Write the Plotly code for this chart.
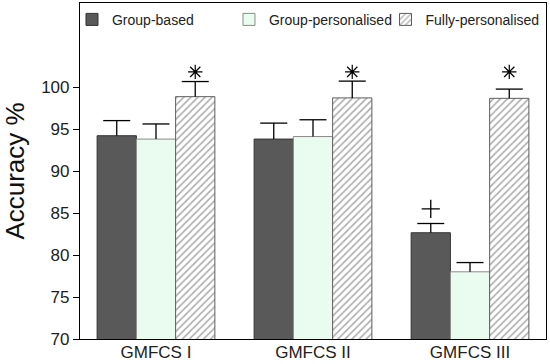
import plotly.graph_objects as go

categories = ["GMFCS I", "GMFCS II", "GMFCS III"]
series_names = ["Group-based", "Group-personalised", "Fully-personalised"]
group_based = [94.2, 93.8, 82.65]
group_based_err = [1.8, 1.9, 1.1]
group_pers = [93.8, 94.1, 78.0]
group_pers_err = [1.8, 2.0, 1.1]
fully_pers = [98.85, 98.7, 98.65]
fully_pers_err = [1.8, 2.0, 1.1]
y_ticks = [70, 75, 80, 85, 90, 95, 100]
star_y = [101.8, 101.8, 101.8]   # '*' significance marks over Fully-personalised
plus_y = [None, None, 85.5]      # '+' marks over Group-based

FONT = "Liberation Sans, Arial, sans-serif"
bargap = 0.25
bar_w = (1 - bargap) / 3
xs = list(range(len(categories)))

fig = go.Figure()
styles = [
    dict(color="#595959", line=dict(color="#333333", width=1)),
    dict(color="#EAFCF0", line=dict(color="#8a8a8a", width=1)),
    dict(color="white", line=dict(color="#5e5e5e", width=1),
         pattern=dict(shape="/", fgcolor="#5a5a5a", bgcolor="white", size=5, solidity=0.32)),
]
legend_ids = ["legend", "legend2", "legend3"]
legend_x = [-0.0172, 0.3197, 0.6556]
all_vals = [group_based, group_pers, fully_pers]
all_errs = [group_based_err, group_pers_err, fully_pers_err]
for name, vals, errs, st, lg in zip(series_names, all_vals, all_errs, styles, legend_ids):
    fig.add_trace(go.Bar(
        x=xs, y=vals, name=name, marker=st, legend=lg,
        error_y=dict(type="data", symmetric=False, array=errs,
                     arrayminus=[0] * len(errs), color="black",
                     thickness=1.3, width=0),
    ))

# error-bar caps (upper only)
for k, (vals, errs) in enumerate(zip(all_vals, all_errs)):
    fig.add_trace(go.Scatter(
        x=[i + (k - 1) * bar_w for i in xs],
        y=[v + e for v, e in zip(vals, errs)],
        mode="markers", showlegend=False, hoverinfo="skip",
        marker=dict(symbol="line-ew-open", size=19.3, color="black",
                    line=dict(color="black", width=1.3)),
    ))

# significance markers
fig.add_trace(go.Scatter(
    x=[i + bar_w for i in xs], y=star_y, mode="markers", showlegend=False,
    marker=dict(symbol="asterisk-open", size=12, color="black",
                line=dict(color="black", width=1.2)),
    hoverinfo="skip"))
fig.add_trace(go.Scatter(
    x=[i - bar_w for i in xs], y=plus_y, mode="markers", showlegend=False,
    marker=dict(symbol="cross-thin-open", size=13, color="black",
                line=dict(color="black", width=1.3)),
    hoverinfo="skip"))

legend_style = dict(orientation="h", y=0.95, xanchor="left", yanchor="middle",
                    font=dict(size=14, color="#222222"),
                    bgcolor="rgba(0,0,0,0)")
fig.update_layout(
    width=550, height=364,
    margin=dict(l=80, r=4, t=3, b=25, autoexpand=False),
    plot_bgcolor="white", paper_bgcolor="white",
    barmode="group", bargap=bargap, bargroupgap=0,
    font=dict(family=FONT, color="#222222"),
    legend=dict(x=legend_x[0], **legend_style),
    legend2=dict(x=legend_x[1], **legend_style),
    legend3=dict(x=legend_x[2], **legend_style),
    xaxis=dict(range=[-0.484, 2.484], tickvals=xs, ticktext=categories,
               showgrid=False, zeroline=False, ticks="",
               showline=True, linecolor="black", linewidth=1.2, mirror=True,
               tickfont=dict(size=17, color="#222222"), ticklabelstandoff=-3),
    yaxis=dict(range=[70, 110], tickvals=y_ticks, showgrid=False, zeroline=False,
               ticks="outside", ticklen=6, tickcolor="black", tickwidth=1,
               showline=True, linecolor="black", linewidth=1.2, mirror=True,
               tickfont=dict(size=17, color="#222222"),
               title=dict(text="Accuracy %", font=dict(size=26, color="#111111"),
                          standoff=12)),
)

fig.write_html("out.html", config={"displayModeBar": False},
               post_script="document.body.style.margin='0';")
